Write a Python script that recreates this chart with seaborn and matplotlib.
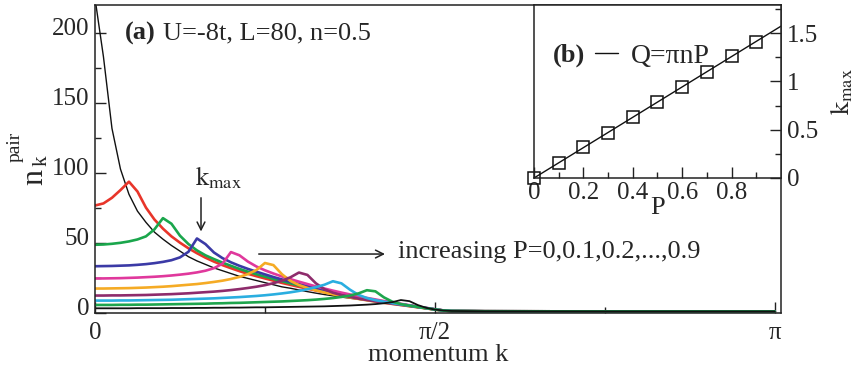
import matplotlib
matplotlib.use("Agg")
import matplotlib.pyplot as plt
import matplotlib.transforms as mtransforms
from matplotlib.ticker import MultipleLocator, FixedLocator
import numpy as np
import pandas as pd
import seaborn as sns

# momentum grid k = m*pi/80
m_index = np.arange(43)
k_tail = [1.80, 2.40, 3.1416]

P_values = [0.0, 0.1, 0.2, 0.3, 0.4, 0.5, 0.6, 0.7, 0.8, 0.9]
colors = ["#111111", "#e8352a", "#1aa64c", "#3b3aa6", "#e0389c", "#f5ab25",
          "#8e2c6c", "#2aaee0", "#1ea54d", "#111111"]
widths = [1.0, 1.9, 1.9, 1.9, 1.9, 1.9, 1.9, 1.9, 1.9, 1.3]

n_P00 = [225, 183, 132, 103, 85, 73, 65, 58, 53, 48.5, 44.5, 40.5, 37.5, 35, 32.5,
         30.5, 28.5, 26.5, 25, 23.5, 22, 20.5, 19, 18, 16.8, 15.6, 14.5, 13.5, 12.6,
         11.7, 10.9, 10.1, 9.3, 8.5, 7.7, 6.9, 6.1, 5.3, 4.4, 3.5, 2.6, 2.0, 1.7]
n_P01 = [77, 78.5, 82.5, 88, 94, 87, 75.5, 67, 60.5, 55, 50.5, 46.5, 43, 39.8, 37,
         34.5, 32.3, 30.2, 28.3, 26.6, 25, 23.4, 21.8, 20.4, 19, 17.7, 16.4, 15.2,
         14.1, 13, 12, 11, 10, 9.1, 8.2, 7.3, 6.4, 5.5, 4.6, 3.7, 2.8, 2.1, 1.8]
n_P02 = [49, 49.2, 49.7, 50.4, 51.4, 52.8, 55, 60, 68, 64, 55.5, 49.5, 45, 41.5,
         38.8, 36.3, 34, 31.8, 29.8, 28, 26.3, 24.6, 23, 21.5, 20, 18.6, 17.2, 15.9,
         14.7, 13.5, 12.4, 11.3, 10.3, 9.3, 8.3, 7.4, 6.5, 5.6, 4.7, 3.8, 2.9, 2.1, 1.8]
n_P03 = [33.7, 33.8, 33.9, 34.1, 34.3, 34.7, 35.2, 35.9, 36.8, 38, 40, 44, 53.5,
         49.5, 43.5, 39.5, 36.5, 34, 31.8, 29.8, 27.9, 26, 24.3, 22.6, 21, 19.5, 18,
         16.6, 15.3, 14, 12.8, 11.6, 10.5, 9.5, 8.5, 7.5, 6.6, 5.7, 4.8, 3.9, 3.0, 2.2, 1.8]
n_P04 = [25, 25, 25.1, 25.2, 25.4, 25.6, 25.9, 26.2, 26.6, 27.1, 27.7, 28.4, 29.3,
         30.5, 32.3, 35.5, 43.8, 41.5, 37, 33.5, 30.8, 28.5, 26.4, 24.5, 22.7, 21,
         19.3, 17.8, 16.3, 14.9, 13.6, 12.3, 11.1, 10, 8.9, 7.9, 6.9, 5.9, 4.9, 4.0,
         3.0, 2.2, 1.8]
n_P05 = [17.8, 17.8, 17.9, 18, 18.1, 18.3, 18.5, 18.8, 19.1, 19.5, 20, 20.5, 21,
         21.7, 22.5, 23.4, 24.6, 26.1, 28.1, 31, 36, 34.5, 28, 23.2, 20.3, 18.2, 16.5,
         15, 13.7, 12.5, 11.4, 10.4, 9.4, 8.5, 7.6, 6.8, 6.0, 5.2, 4.4, 3.6, 2.8, 2.1, 1.8]
n_P06 = [12.8, 12.8, 12.9, 12.9, 13.0, 13.1, 13.2, 13.4, 13.6, 13.8, 14.1, 14.4,
         14.8, 15.2, 15.6, 16.1, 16.7, 17.4, 18.2, 19.1, 20.2, 21.6, 23.4, 25.8, 29.2,
         27.5, 21.5, 17.3, 14.8, 13.1, 11.8, 10.6, 9.6, 8.6, 7.7, 6.9, 6.1, 5.3, 4.5,
         3.7, 2.9, 2.1, 1.8]
n_P07 = [9.2, 9.2, 9.2, 9.3, 9.3, 9.4, 9.5, 9.6, 9.7, 9.8, 10, 10.2, 10.4, 10.6,
         10.8, 11.1, 11.4, 11.7, 12.1, 12.5, 13, 13.6, 14.3, 15.1, 16.1, 17.3, 18.8,
         20.5, 23, 21.5, 17, 13.3, 11, 9.5, 8.4, 7.4, 6.5, 5.6, 4.7, 3.8, 2.9, 2.1, 1.8]
n_P08 = [6.1, 6.1, 6.1, 6.2, 6.2, 6.3, 6.3, 6.4, 6.5, 6.6, 6.7, 6.8, 6.9, 7.0, 7.2,
         7.3, 7.5, 7.6, 7.8, 8.0, 8.2, 8.4, 8.6, 8.9, 9.2, 9.5, 9.9, 10.4, 11, 11.8,
         12.8, 14.3, 16.6, 15.8, 11.5, 8.4, 6.7, 5.6, 4.7, 3.8, 2.9, 2.1, 1.8]
n_P09 = [3.7, 3.7, 3.7, 3.7, 3.7, 3.8, 3.8, 3.8, 3.8, 3.9, 3.9, 3.9, 4.0, 4.0, 4.1,
         4.1, 4.2, 4.2, 4.3, 4.4, 4.4, 4.5, 4.6, 4.7, 4.8, 4.9, 5.0, 5.1, 5.3, 5.5,
         5.7, 6.0, 6.3, 6.7, 7.3, 8.1, 9.6, 8.8, 6.0, 4.0, 2.8, 2.1, 1.8]
n_tail = [1.6, 1.5, 1.5]

curves = [n_P00, n_P01, n_P02, n_P03, n_P04, n_P05, n_P06, n_P07, n_P08, n_P09]

# inset (b): position of the maximum vs P
P_inset = [0.0, 0.1, 0.2, 0.3, 0.4, 0.5, 0.6, 0.7, 0.8, 0.9]
kmax_inset = [0.0, 0.16, 0.32, 0.47, 0.63, 0.79, 0.94, 1.10, 1.26, 1.41]
P_line = [0.0, 1.0]
Q_line = [0.0, 1.5708]

sns.set_theme(style="ticks")
plt.rcParams["font.family"] = ["Liberation Serif", "DejaVu Serif"]
plt.rcParams["mathtext.fontset"] = "stix"
plt.rcParams["axes.linewidth"] = 1.1
plt.rcParams["axes.edgecolor"] = "#222222"

fig = plt.figure(figsize=(8.54, 3.67), dpi=100)
ax = fig.add_axes([0.1112, 0.1458, 0.8033, 0.8406])

k_grid = m_index * np.pi / 80
for P, vals, c, lw in zip(P_values, curves, colors, widths):
    df = pd.DataFrame({"k": list(k_grid) + k_tail, "n": vals + n_tail})
    sns.lineplot(data=df, x="k", y="n", color=c, linewidth=lw, sort=False,
                 estimator=None, ax=ax)

ax.set_xlim(0, 3.17)
ax.set_ylim(0, 220)
ax.xaxis.set_major_locator(FixedLocator([0, np.pi / 2, np.pi]))
ax.xaxis.set_minor_locator(FixedLocator([np.pi / 4, 3 * np.pi / 4]))
ax.set_xticklabels(["0", "π/2", "π"])
ax.yaxis.set_major_locator(MultipleLocator(50))
ax.yaxis.set_minor_locator(MultipleLocator(25))
ax.tick_params(which="both", direction="in", top=False, right=False,
               labelsize=18, color="#222222")
ax.tick_params(which="major", length=8, width=1.0)
ax.tick_params(which="minor", length=4, width=1.0)
ax.tick_params(axis="x", pad=6)
ax.tick_params(axis="y", pad=4)
shift = mtransforms.ScaledTranslation(0, 0.07, fig.dpi_scale_trans)
for lab in ax.get_yticklabels():
    lab.set_transform(lab.get_transform() + shift)

ax.set_xlabel("momentum k", fontsize=19, labelpad=0)
ax.set_ylabel("")

# y label n_k^pair built from three pieces (big n, small sub/superscripts)
W, H = 854.0, 367.0
fig.text(42 / W, 1 - 177 / H, "n", fontsize=23, rotation=90,
         rotation_mode="anchor", ha="center", va="baseline")
fig.text(47 / W, 1 - 161 / H, "k", fontsize=15, rotation=90,
         rotation_mode="anchor", ha="center", va="baseline")
fig.text(20 / W, 1 - 147 / H, "pair", fontsize=14, rotation=90,
         rotation_mode="anchor", ha="center", va="baseline")

ax.text(0.139, 200, "(a)", fontsize=19, fontweight="bold", va="center")
ax.text(0.316, 200, "U=-8t, L=80, n=0.5", fontsize=19, va="center")
ax.text(0.462, 96.7, r"$\mathrm{k}_\mathrm{max}$", fontsize=19, va="center")
ax.annotate("", xy=(0.49, 56.5), xytext=(0.49, 84.5),
            arrowprops=dict(arrowstyle="->", color="#222222", lw=1.1,
                            mutation_scale=14))
ax.annotate("", xy=(1.353, 42.4), xytext=(0.744, 42.4),
            arrowprops=dict(arrowstyle="->", color="#222222", lw=1.1,
                            mutation_scale=14))
ax.text(1.40, 43.5, "increasing P=0,0.1,0.2,...,0.9", fontsize=19, va="center")

# inset
axin = fig.add_axes([0.6253, 0.5150, 0.2892, 0.4714])
axin.set_facecolor("white")
sns.lineplot(x=P_line, y=Q_line, color="#111111", linewidth=1.0, ax=axin,
             label="Q=πnP")
sns.lineplot(x=P_inset, y=kmax_inset, color="#111111", marker="s",
             linestyle="none", markerfacecolor="none", markeredgecolor="#111111",
             markeredgewidth=1.1, markersize=9, clip_on=False, ax=axin)
axin.set_xlim(0, 1)
axin.set_ylim(0, 1.79)
axin.xaxis.set_major_locator(FixedLocator([0, 0.2, 0.4, 0.6, 0.8]))
axin.xaxis.set_minor_locator(FixedLocator([0.1, 0.3, 0.5, 0.7, 0.9]))
axin.set_xticklabels(["0", "0.2", "0.4", "0.6", "0.8"])
axin.yaxis.tick_right()
axin.yaxis.set_label_position("right")
axin.yaxis.set_major_locator(FixedLocator([0, 0.5, 1.0, 1.5]))
axin.yaxis.set_minor_locator(FixedLocator([0.25, 0.75, 1.25, 1.75]))
axin.set_yticklabels(["0", "0.5", "1", "1.5"])
axin.tick_params(which="both", direction="in", labelsize=18, color="#222222",
                 left=False, top=False)
axin.tick_params(which="major", length=8, width=1.0)
axin.tick_params(which="minor", length=4, width=1.0)
axin.tick_params(axis="x", pad=3)
axin.tick_params(axis="y", pad=4)
axin.set_xlabel("P", fontsize=19, labelpad=-5)
axin.set_ylabel(r"$\mathrm{k}_\mathrm{max}$", fontsize=19, labelpad=8)
axin.text(0.077, 0.711, "(b)", transform=axin.transAxes, fontsize=19,
          fontweight="bold", va="center")
axin.legend(loc="center left", bbox_to_anchor=(0.245, 0.705), frameon=False,
            fontsize=20, handlelength=0.85, handletextpad=0.45, borderpad=0,
            borderaxespad=0)

fig.savefig("out.png", dpi=100)
